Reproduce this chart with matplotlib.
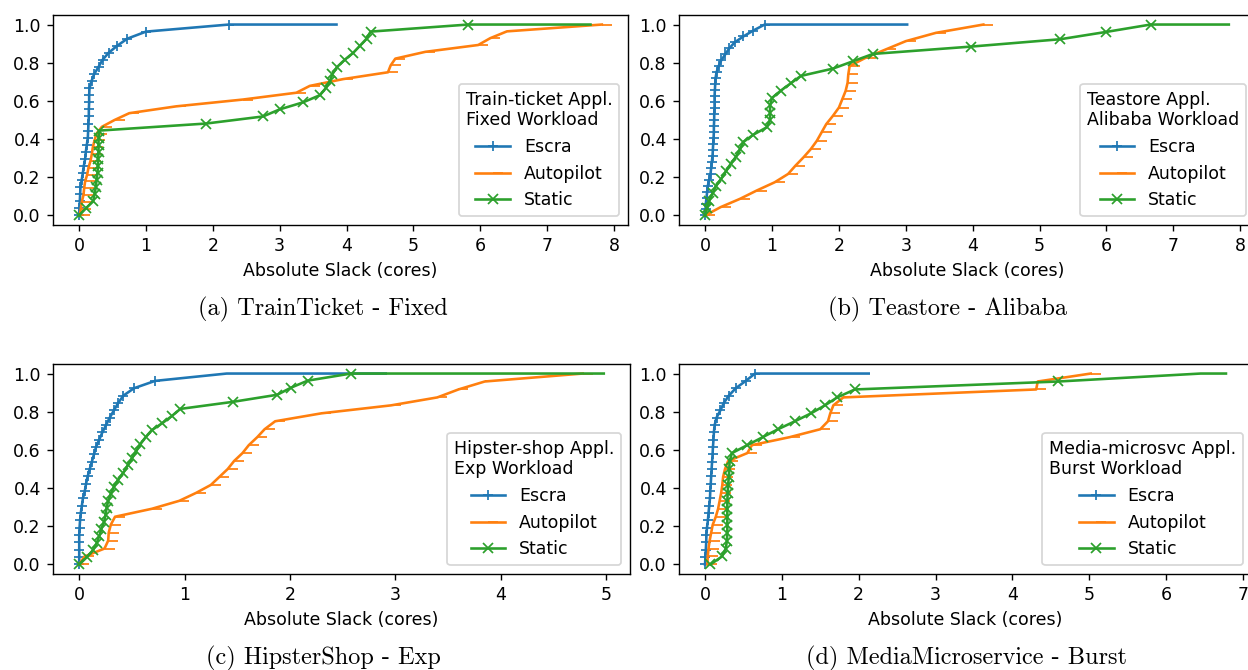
import numpy as np
import matplotlib
matplotlib.use("Agg")
import matplotlib.pyplot as plt

# CDF of absolute slack: x value (cores) at evenly spaced cumulative probabilities
# (every marked sample), followed by the largest observed slack where the curve reaches 1.0

# (a) TrainTicket - Fixed
a_escra = [0.0, 0.005, 0.01, 0.015, 0.02, 0.038, 0.055, 0.07, 0.09, 0.10, 0.115, 0.13, 0.135,
           0.14, 0.145, 0.145, 0.15, 0.15, 0.155, 0.185, 0.225, 0.29, 0.35, 0.44, 0.57, 0.72,
           1.0, 2.24]
a_autopilot = [0.01, 0.025, 0.04, 0.065, 0.075, 0.09, 0.12, 0.14, 0.17, 0.19, 0.205, 0.23,
               0.26, 0.34, 0.53, 0.75, 1.45, 2.45, 3.25, 3.45, 3.95, 4.62, 4.66, 4.73, 5.18,
               5.97, 6.15, 6.4, 7.82]
a_static = [0.0, 0.10, 0.21, 0.23, 0.25, 0.26, 0.275, 0.28, 0.285, 0.29, 0.29, 0.29, 0.30,
            1.9, 2.75, 3.0, 3.35, 3.6, 3.69, 3.75, 3.79, 3.86, 3.97, 4.1, 4.2, 4.3, 4.36, 5.82]
a_max = [3.85, 7.82, 7.65]

# (b) Teastore - Alibaba
b_escra = [0.0, 0.005, 0.01, 0.02, 0.03, 0.04, 0.06, 0.08, 0.09, 0.10, 0.11, 0.115, 0.12,
           0.125, 0.13, 0.13, 0.135, 0.135, 0.14, 0.14, 0.14, 0.145, 0.15, 0.155, 0.17, 0.20,
           0.24, 0.30, 0.36, 0.44, 0.57, 0.72, 0.89]
b_autopilot = [0.0, 0.23, 0.52, 0.77, 1.04, 1.24, 1.35, 1.47, 1.58, 1.67, 1.74, 1.81, 1.91,
               2.0, 2.05, 2.10, 2.13, 2.14, 2.16, 2.40, 2.70, 3.0, 3.45, 4.16]
b_static = [0.0, 0.03, 0.06, 0.11, 0.16, 0.24, 0.31, 0.38, 0.46, 0.52, 0.57, 0.72, 0.92, 0.97,
            0.97, 0.97, 1.0, 1.13, 1.28, 1.43, 1.91, 2.21, 2.51, 3.98, 5.31, 6.0, 6.66]
b_max = [3.02, 4.16, 7.83]

# (c) HipsterShop - Exp
c_escra = [0.0, 0.0, 0.0, 0.0, 0.0, 0.003, 0.008, 0.015, 0.025, 0.035, 0.053, 0.065, 0.08,
           0.10, 0.12, 0.14, 0.16, 0.19, 0.22, 0.255, 0.29, 0.33, 0.37, 0.42, 0.52, 0.72, 1.4]
c_autopilot = [0.0, 0.05, 0.24, 0.275, 0.28, 0.30, 0.34, 0.69, 0.95, 1.11, 1.25, 1.33, 1.41,
               1.47, 1.55, 1.61, 1.69, 1.76, 1.86, 2.3, 2.96, 3.4, 3.6, 3.85, 4.78]
c_static = [0.0, 0.07, 0.13, 0.165, 0.19, 0.21, 0.235, 0.25, 0.26, 0.275, 0.30, 0.33, 0.37,
            0.42, 0.46, 0.50, 0.54, 0.58, 0.63, 0.69, 0.79, 0.88, 0.96, 1.46, 1.88, 2.01, 2.17,
            2.58]
c_max = [2.91, 4.78, 4.98]

# (d) MediaMicroservice - Burst
d_escra = [0.0, 0.005, 0.01, 0.015, 0.018, 0.025, 0.037, 0.045, 0.055, 0.064, 0.068, 0.074,
           0.08, 0.085, 0.092, 0.098, 0.103, 0.11, 0.115, 0.125, 0.15, 0.20, 0.245, 0.31, 0.40,
           0.53, 0.65]
d_autopilot = [0.03, 0.035, 0.045, 0.06, 0.08, 0.10, 0.14, 0.17, 0.19, 0.21, 0.225, 0.235,
               0.26, 0.30, 0.55, 0.61, 1.1, 1.50, 1.60, 1.63, 1.67, 1.80, 4.31, 4.33, 5.02]
d_static = [0.07, 0.22, 0.27, 0.285, 0.29, 0.29, 0.29, 0.29, 0.29, 0.295, 0.30, 0.31, 0.315,
            0.32, 0.35, 0.55, 0.75, 0.95, 1.17, 1.38, 1.56, 1.72, 1.95, 4.6, 6.45]
d_max = [2.13, 5.02, 6.78]

methods = ["Escra", "Autopilot", "Static"]
markers = ["+", 1, "x"]  # 1 = tick to the right of each sample

# whether the last sampled point (at 1.0) carries a marker
a_mark_top = [True, True, True]
b_mark_top = [True, True, True]
c_mark_top = [False, True, True]
d_mark_top = [True, True, False]

panels = [
    ([a_escra, a_autopilot, a_static], a_max, a_mark_top,
     "Train-ticket Appl.\nFixed Workload", "(a) TrainTicket - Fixed", [53, 15, 628, 225], 323),
    ([b_escra, b_autopilot, b_static], b_max, b_mark_top,
     "Teastore Appl.\nAlibaba Workload", "(b) Teastore - Alibaba", [679, 15, 1255, 225], 947),
    ([c_escra, c_autopilot, c_static], c_max, c_mark_top,
     "Hipster-shop Appl.\nExp Workload", "(c) HipsterShop - Exp", [53, 364, 630, 574], 323),
    ([d_escra, d_autopilot, d_static], d_max, d_mark_top,
     "Media-microsvc Appl.\nBurst Workload", "(d) MediaMicroservice - Burst",
     [679, 364, 1252, 574], 967),
]

W, H, DPI = 1248, 670, 125
fig = plt.figure(figsize=(W / DPI, H / DPI), dpi=DPI)

for curves, maxima, mark_top, title, caption, box, cx in panels:
    x0, y0, x1, y1 = box
    ax = fig.add_axes([x0 / W, 1 - y1 / H, (x1 - x0) / W, (y1 - y0) / H])
    for q, top, flag, name, mk in zip(curves, maxima, mark_top, methods, markers):
        xs = np.append(q, top)
        ys = np.append(np.linspace(0, 1, len(q)), 1.0)
        n_marked = len(q) if flag else len(q) - 1
        ax.plot(xs, ys, marker=mk, markevery=list(range(n_marked)), label=name)
    ax.set_xlabel("Absolute Slack (cores)")
    ax.legend(title=title, loc="lower right")
    fig.text(cx / W, 1 - (y1 + 84) / H, caption, ha="center", va="center",
             fontsize=14, family="cmr10")

fig.savefig("out.png", dpi=DPI)
